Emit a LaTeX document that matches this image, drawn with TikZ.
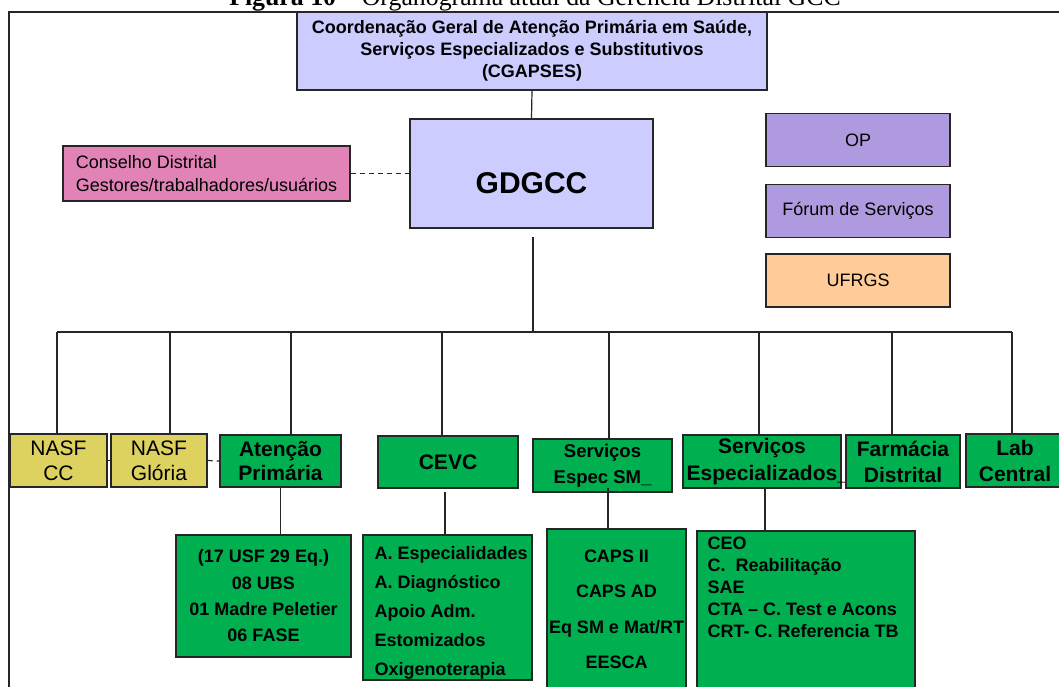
\documentclass[tikz,border=0pt]{standalone}
\usepackage{fontspec}
\setmainfont{Liberation Sans}
\newfontfamily\captionserif{Liberation Serif}
\definecolor{lav}{HTML}{CCCCFF}
\definecolor{pinkbox}{HTML}{E283B8}
\definecolor{purpbox}{HTML}{B09ADF}
\definecolor{peach}{HTML}{FFCC99}
\definecolor{olive}{HTML}{DDD160}
\definecolor{grn}{HTML}{00B050}
\definecolor{edge}{HTML}{262626}
\begin{document}
\begin{tikzpicture}[x=1pt,y=-1pt,
  box/.style={draw=edge, line width=1.3pt, inner sep=0pt, align=center},
  link/.style={draw=edge, line width=1.2pt},
  dashlink/.style={draw=edge, line width=1.2pt, dash pattern=on 5pt off 4pt},
  fa/.style={font=\fontsize{18}{22}\selectfont},
  fab/.style={font=\fontsize{18}{22}\selectfont\bfseries},
  fl/.style={font=\fontsize{21}{25}\selectfont},
  flb/.style={font=\fontsize{21}{25}\selectfont\bfseries}]
\useasboundingbox (0,0) rectangle (1059,686);
\clip (0,0) rectangle (1059,686);

% caption above the frame
\node[anchor=base, inner sep=0pt, font=\captionserif\fontsize{25.8}{30}\selectfont] (caption) at (535,5)
  {\textbf{Figura 10} – Organograma atual da Gerência Distrital GCC};

% frame
\draw[edge, line width=1.4pt] (9,690) -- (9,12) -- (1065,12);

% top level
\node[box, fill=lav, fab, minimum width=470pt, minimum height=78pt] (cgapses) at (532,51)
  {Coordenação Geral de Atenção Primária em Saúde,\\Serviços Especializados e Substitutivos\\(CGAPSES)};
\node[box, fill=lav, font=\fontsize{30}{34}\selectfont\bfseries, minimum width=243pt, minimum height=109pt] (gdgcc) at (531.5,173.5)
  {\raisebox{0pt}[39.5pt][0pt]{GDGCC}};
\node[box, fill=pinkbox, fa, align=left, minimum width=287pt, minimum height=55pt] (conselho) at (206.5,173.5)
  {Conselho Distrital\\[0.5pt]Gestores/trabalhadores/usuários};

\node[box, fill=purpbox, fa, minimum width=184pt, minimum height=53pt] (op) at (858,140) {OP};
\node[box, fill=purpbox, fa, minimum width=184pt, minimum height=53pt] (forum) at (858,211) {Fórum de Serviços};
\node[box, fill=peach, fa, minimum width=184pt, minimum height=53pt] (ufrgs) at (858,280.5) {UFRGS};

% second level
\node[box, fill=olive, fl, minimum width=97pt, minimum height=53pt] (nasfcc) at (58.5,460.5) {NASF\\CC};
\node[box, fill=olive, fl, minimum width=96pt, minimum height=53pt] (nasfglo) at (159,460.5) {NASF\\Glória};
\node[box, fill=grn, flb, minimum width=121pt, minimum height=52pt] (atencao) at (280.5,461) {Atenção\\[-1pt]Primária};
\node[box, fill=grn, flb, minimum width=140pt, minimum height=52pt] (cevc) at (448,462) {CEVC};
\node[box, fill=grn, font=\fontsize{18.5}{26}\selectfont\bfseries, minimum width=139pt, minimum height=53pt] (sm) at (602.5,465.5) {Serviços\\Espec SM\_};
\node[box, fill=grn, font=\fontsize{21}{27}\selectfont\bfseries, minimum width=158pt, minimum height=53pt] (se) at (762,461.5) {Serviços\\Especializados\rlap{\_}};
\node[box, fill=grn, flb, minimum width=114pt, minimum height=53pt] (farm) at (903,461.5) {Farmácia\\[1pt]Distrital};
\node[box, fill=grn, flb, minimum width=98pt, minimum height=53pt] (lab) at (1015,460.5) {Lab\\[1pt]Central};

% third level
\node[box, fill=grn, font=\fontsize{18}{26.3}\selectfont\bfseries, minimum width=175pt, minimum height=122pt] (apsub) at (263.5,596)
  {(17 USF 29 Eq.)\\08 UBS\\01 Madre Peletier\\06 FASE};
\node[box, fill=grn, minimum width=169pt, minimum height=145pt] (cevcsub) at (447.5,607.5) {};
\node[anchor=north west, inner sep=0pt, align=left, font=\fontsize{18}{29}\selectfont\bfseries] (cevcitems)
  at ([shift={(12pt,-11.6pt)}]cevcsub.north west)
  {A. Especialidades\\A. Diagnóstico\\Apoio Adm.\\Estomizados\\Oxigenoterapia};
\node[box, fill=grn, minimum width=139pt, minimum height=170pt] (smsub) at (616.5,614) {};
\node[anchor=north, inner sep=0pt, align=center, font=\fontsize{18}{35.3}\selectfont\bfseries] (smitems)
  at ([yshift=-21.5pt]smsub.north)
  {CAPS II\\CAPS AD\\Eq SM e Mat/RT\\EESCA};
\node[box, fill=grn, minimum width=218pt, minimum height=170pt] (sesub) at (806,616) {};
\node[anchor=north west, inner sep=0pt, align=left, font=\fontsize{18}{22}\selectfont\bfseries] (seitems)
  at ([shift={(11pt,-6.6pt)}]sesub.north west)
  {CEO\\C.\ \ Reabilitação\\SAE\\CTA – C. Test e Acons\\CRT- C. Referencia TB};

% connectors
\draw[link] (cgapses.south) -- (gdgcc.north);
\draw[dashlink] (conselho.east) -- (gdgcc.west |- conselho.east);

\coordinate (d1) at (57,332);
\coordinate (d2) at (170,332);
\coordinate (d3) at (291,332);
\coordinate (d4) at (442,332);
\coordinate (d5) at (609,332);
\coordinate (d6) at (759,332);
\coordinate (d7) at (892,332);
\coordinate (d8) at (1012,332);
\coordinate (hub) at (533,332);

\draw[link, shorten <=8pt] (gdgcc.south -| hub) -- (hub);
\draw[link] (d1) -- (d8);
\draw[link] (d1) -- (d1 |- nasfcc.north);
\draw[link] (d2) -- (d2 |- nasfglo.north);
\draw[link] (d3) -- (d3 |- atencao.north);
\draw[link] (d4) -- (d4 |- cevc.north);
\draw[link] (d5) -- (d5 |- sm.north);
\draw[link] (d6) -- (d6 |- se.north);
\draw[link] (d7) -- (d7 |- farm.north);
\draw[link] (d8) -- (d8 |- lab.north);

\draw[link] (nasfcc.east) -- (nasfglo.west);
\draw[dashlink] (nasfglo.east) -- (atencao.west);

\draw[link] (atencao.south) -- (atencao.south |- apsub.north);
\draw[link] ([xshift=-3pt,yshift=-3pt]cevc.south) -- ([xshift=-3pt]cevc.south |- cevcsub.north);
\draw[link] ([xshift=5.5pt,yshift=5pt]sm.south) -- ([xshift=5.5pt]sm.south |- smsub.north);
\draw[link] ([xshift=3pt]se.south) -- ([xshift=3pt]se.south |- sesub.north);
\end{tikzpicture}
\end{document}
